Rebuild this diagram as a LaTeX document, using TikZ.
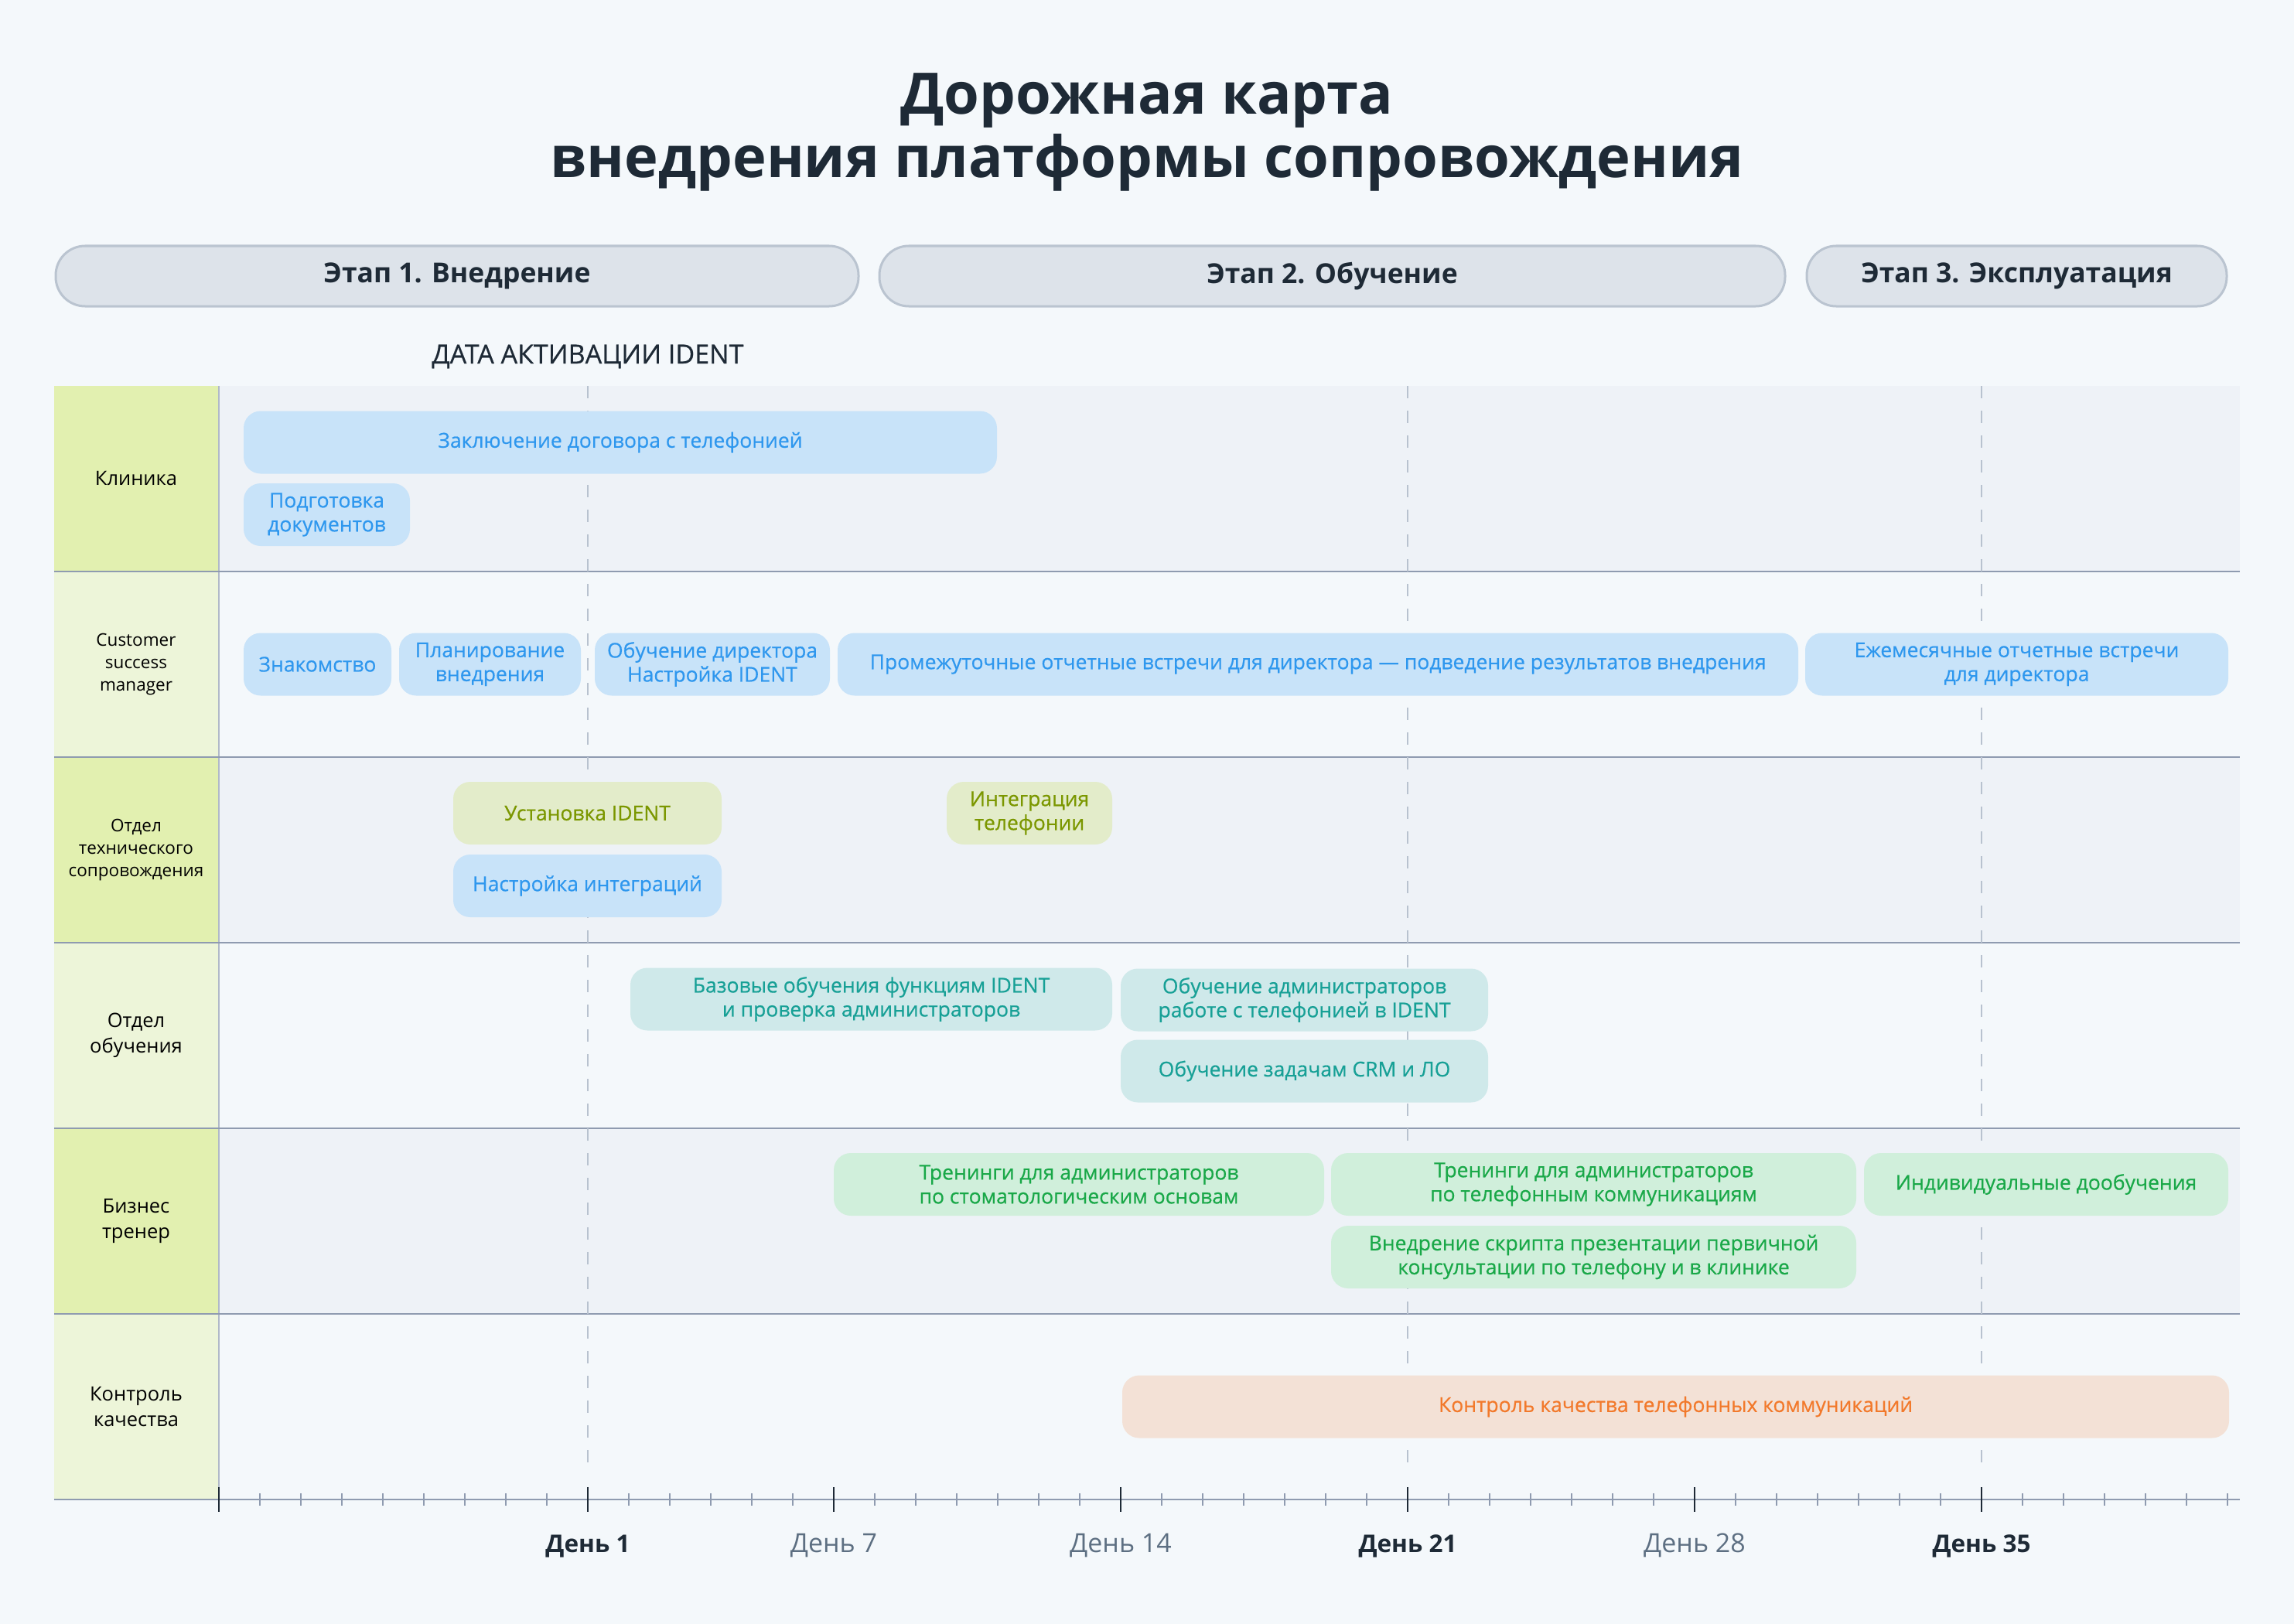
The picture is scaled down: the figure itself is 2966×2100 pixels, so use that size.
\documentclass[tikz,border=0pt]{standalone}
\usepackage{fontspec}
\setmainfont{Open Sans}
\newfontfamily\medfont{Open Sans}[FakeBold=0.5]

\definecolor{pagebg}{HTML}{F4F8FB}
\definecolor{rowgray}{HTML}{EEF2F7}
\definecolor{cellstrong}{HTML}{E2F0B0}
\definecolor{celllight}{HTML}{EDF5D9}
\definecolor{sepc}{HTML}{8F9BB0}
\definecolor{dashc}{HTML}{B8C2CF}
\definecolor{titlec}{HTML}{1E2A36}
\definecolor{dayc}{HTML}{5D6F82}
\definecolor{phasefill}{HTML}{DDE3EA}
\definecolor{phaseline}{HTML}{BAC4D0}
\definecolor{bluefill}{HTML}{C8E3F9}
\definecolor{bluetxt}{HTML}{2E97EE}
\definecolor{olivefill}{HTML}{E3ECCA}
\definecolor{olivetxt}{HTML}{7B9700}
\definecolor{tealfill}{HTML}{CFE9EA}
\definecolor{tealtxt}{HTML}{17A096}
\definecolor{greenfill}{HTML}{D0EFDB}
\definecolor{greentxt}{HTML}{19A848}
\definecolor{orangefill}{HTML}{F3E1D6}
\definecolor{orangetxt}{HTML}{F2792B}

\begin{document}
\begin{tikzpicture}[x=1pt, y=-1pt,
  task/.style={rounded corners=22pt, minimum height=81pt, inner sep=0pt, align=center, font=\medfont\fontsize{26.5}{31}\selectfont},
  bluetask/.style={task, fill=bluefill, text=bluetxt},
  olivetask/.style={task, fill=olivefill, text=olivetxt},
  tealtask/.style={task, fill=tealfill, text=tealtxt},
  greentask/.style={task, fill=greenfill, text=greentxt},
  orangetask/.style={task, fill=orangefill, text=orangetxt},
  rowlabel/.style={align=center, inner sep=0pt, text=black, font=\fontsize{25.5}{33}\selectfont},
  rowlabelsm/.style={align=center, inner sep=0pt, text=black, font=\fontsize{22.5}{29}\selectfont},
  phasebox/.style={draw=phaseline, line width=3pt, fill=phasefill, rounded corners=38pt, minimum height=78pt, inner sep=0pt, text=titlec, font=\bfseries\fontsize{35.5}{40}\selectfont},
  dayline/.style={draw=dashc, line width=2pt, dash pattern=on 16pt off 16pt},
  daybold/.style={anchor=base, text=titlec, font=\bfseries\fontsize{31.5}{36}\selectfont},
  dayreg/.style={anchor=base, text=dayc, font=\fontsize{34}{38}\selectfont}]

% Page
\fill[pagebg] (0,0) rectangle (2966,2100);
\useasboundingbox (0,0) rectangle (2966,2100);

%%%%%%%%%%%%%%%%%%%%%%%%%%%%%%%%%%%%%%%%%%%%%%%%%%%%%%%%%%%%%%%%
% Title and phases
%%%%%%%%%%%%%%%%%%%%%%%%%%%%%%%%%%%%%%%%%%%%%%%%%%%%%%%%%%%%%%%%

\node[anchor=base, text=titlec, font=\bfseries\fontsize{74}{84}\selectfont] (t1) at (1483,148) {Дорожная карта};
\node[anchor=base, text=titlec, font=\bfseries\fontsize{74}{84}\selectfont] (t2) at (1483,230) {внедрения платформы сопровождения};

\node[phasebox, minimum width=1038pt] (ph1) at (591,357) {Этап 1. Внедрение};
\node[phasebox, minimum width=1171pt] (ph2) at (1722.5,357) {Этап 2. Обучение};
\node[phasebox, minimum width=543pt] (ph3) at (2607.5,357) {Этап 3. Эксплуатация};

\node[anchor=base, text=titlec, font=\medfont\fontsize{34}{38}\selectfont] (act) at (760,470) {ДАТА АКТИВАЦИИ IDENT};

%%%%%%%%%%%%%%%%%%%%%%%%%%%%%%%%%%%%%%%%%%%%%%%%%%%%%%%%%%%%%%%%
% Grid
%%%%%%%%%%%%%%%%%%%%%%%%%%%%%%%%%%%%%%%%%%%%%%%%%%%%%%%%%%%%%%%%

% Row backgrounds
\foreach \y in {499,979,1459} {
  \fill[rowgray] (283,\y) rectangle (2896,\y+240);
  \fill[cellstrong] (70,\y) rectangle (283,\y+240);
  \fill[celllight] (70,\y+240) rectangle (283,\y+480);
}

% Borders
\draw[sepc!70, line width=1.5pt] (283,499) -- (283,1939);
\foreach \y in {739,979,1219,1459,1699}
  \draw[sepc, line width=2pt] (70,\y) -- (2896,\y);

% Day lines
\draw[dayline] (760,499) -- (760,1905);
\draw[dayline] (1820,499) -- (1820,1905);
\draw[dayline] (2562,499) -- (2562,1905);

% Row labels
\node[rowlabel] (l_CL) at (176,619) {Клиника};
\node[rowlabelsm] (l_CSM) at (176,859) {Customer\\success\\manager};
\node[rowlabelsm] (l_TS) at (176,1099) {Отдел\\технического\\сопровождения};
\node[rowlabel] (l_ED) at (176,1339) {Отдел\\обучения};
\node[rowlabel] (l_BT) at (176,1579) {Бизнес\\тренер};
\node[rowlabel] (l_QC) at (176,1819) {Контроль\\качества};

%%%%%%%%%%%%%%%%%%%%%%%%%%%%%%%%%%%%%%%%%%%%%%%%%%%%%%%%%%%%%%%%
% Tasks
%%%%%%%%%%%%%%%%%%%%%%%%%%%%%%%%%%%%%%%%%%%%%%%%%%%%%%%%%%%%%%%%

% Clinic
\node[bluetask, minimum width=974pt] (r1_CT) at (802,572) {Заключение договора с телефонией};
\node[bluetask, minimum width=215pt] (r1_DOC) at (422.5,665.5) {Подготовка\\документов};

% Customer success manager
\node[bluetask, minimum width=191pt] (r2_MT) at (410.5,859) {Знакомство};
\node[bluetask, minimum width=235pt] (r2_PL) at (633.5,859) {Планирование\\внедрения};
\node[bluetask, minimum width=304pt] (r2_DT) at (921,859) {Обучение директора\\Настройка IDENT};
\node[bluetask, minimum width=1242pt] (r2_IM) at (1704,859) {Промежуточные отчетные встречи для директора — подведение результатов внедрения};
\node[bluetask, minimum width=547pt] (r2_MM) at (2607.5,859) {Ежемесячные отчетные встречи\\для директора};

% Technical support
\node[olivetask, minimum width=347pt] (r3_IN) at (759.5,1051.5) {Установка IDENT};
\node[bluetask, minimum width=347pt] (r3_IS) at (759.5,1145.5) {Настройка интеграций};
\node[olivetask, minimum width=214pt] (r3_TI) at (1331,1051.5) {Интеграция\\телефонии};

% Education
\node[tealtask, minimum width=623pt] (r4_BT) at (1126.5,1292) {Базовые обучения функциям IDENT\\и проверка администраторов};
\node[tealtask, minimum width=475pt] (r4_AT) at (1686.5,1293) {Обучение администраторов\\работе с телефонией в IDENT};
\node[tealtask, minimum width=475pt] (r4_CRM) at (1686.5,1385) {Обучение задачам CRM и ЛО};

% Business trainer
\node[greentask, minimum width=634pt] (r5_TD) at (1395,1531.5) {Тренинги для администраторов\\по стоматологическим основам};
\node[greentask, minimum width=679pt] (r5_TC) at (2060.5,1531.5) {Тренинги для администраторов\\по телефонным коммуникациям};
\node[greentask, minimum width=471pt] (r5_IND) at (2645.5,1531.5) {Индивидуальные дообучения};
\node[greentask, minimum width=679pt] (r5_SC) at (2060.5,1625.5) {Внедрение скрипта презентации первичной\\консультации по телефону и в клинике};

% Quality control
\node[orangetask, minimum width=1431pt] (r6_QC) at (2166.5,1819) {Контроль качества телефонных коммуникаций};

%%%%%%%%%%%%%%%%%%%%%%%%%%%%%%%%%%%%%%%%%%%%%%%%%%%%%%%%%%%%%%%%
% Time axis
%%%%%%%%%%%%%%%%%%%%%%%%%%%%%%%%%%%%%%%%%%%%%%%%%%%%%%%%%%%%%%%%

\draw[sepc, line width=2.5pt] (70,1939) -- (2896,1939);
\foreach \d in {-7,...,41}
  \draw[sepc, line width=2pt] ({760+(\d-1)*53},1931) -- ++(0,16);
\foreach \d in {-8,1,7,14,21,28,35}
  \draw[titlec, line width=2pt] ({760+(\d-1)*53},1923) -- ++(0,32);

\node[daybold] (d1) at (760,2007) {День 1};
\node[dayreg] (d7) at (1078,2007) {День 7};
\node[dayreg] (d14) at (1449,2007) {День 14};
\node[daybold] (d21) at (1820,2007) {День 21};
\node[dayreg] (d28) at (2191,2007) {День 28};
\node[daybold] (d35) at (2562,2007) {День 35};

\end{tikzpicture}
\end{document}
